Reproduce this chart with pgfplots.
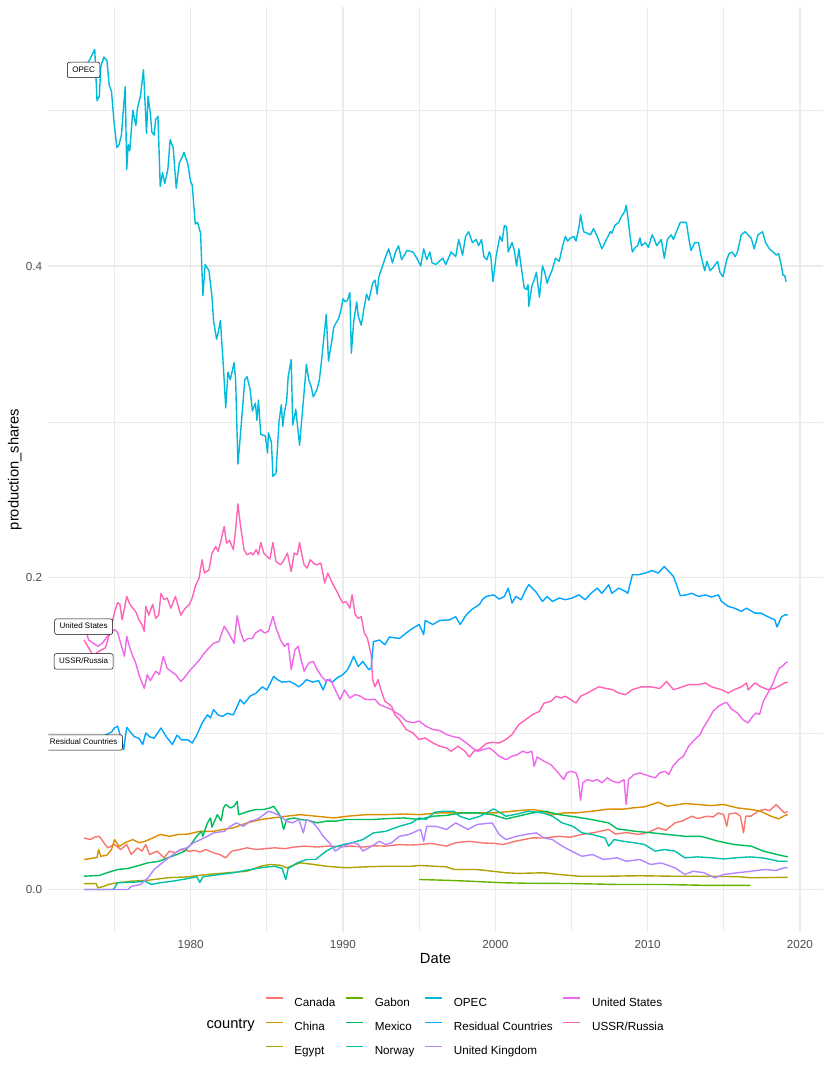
\documentclass[border=0pt]{standalone}
\usepackage{fontspec}
\setmainfont{Liberation Sans}
\usepackage{pgfplots}
\pgfplotsset{compat=1.18}
\definecolor{gridc}{HTML}{EBEBEB}
\definecolor{tickc}{HTML}{4D4D4D}
\definecolor{cCanada}{HTML}{F8766D}
\definecolor{cChina}{HTML}{DB8E00}
\definecolor{cEgypt}{HTML}{AEA200}
\definecolor{cGabon}{HTML}{64B200}
\definecolor{cMexico}{HTML}{00BD5C}
\definecolor{cNorway}{HTML}{00C1A7}
\definecolor{cOPEC}{HTML}{00BADE}
\definecolor{cResid}{HTML}{00A6FF}
\definecolor{cUK}{HTML}{B385FF}
\definecolor{cUS}{HTML}{EF67EB}
\definecolor{cUSSR}{HTML}{FF63B6}
\begin{document}
\begin{tikzpicture}
\path[use as bounding box] (-48.3pt,-143pt) rectangle (781.7pt,932pt);
\begin{axis}[
  at={(0pt,0pt)}, anchor=south west,
  scale only axis, width=774.4pt, height=924.7pt,
  xmin=1970.65, xmax=2021.5, ymin=-0.0273, ymax=0.566,
  axis line style={draw=none}, major tick length=0pt, minor tick length=0pt,
  tick style={draw=none},
  xtick={1980,1990,2000,2010,2020}, xticklabels={1980,1990,2000,2010,2020},
  minor xtick={1975,1985,1995,2005,2015},
  ytick={0,0.2,0.4}, yticklabels={0.0,0.2,0.4},
  minor ytick={0.1,0.3,0.5},
  grid=both,
  major grid style={line width=1.3pt, color=gridc},
  minor grid style={line width=0.7pt, color=gridc},
  xticklabel style={font=\fontsize{11.7}{14}\selectfont, color=tickc, anchor=north, inner sep=0pt, text height=8.4pt, text depth=0pt, yshift=-8pt},
  yticklabel style={font=\fontsize{11.7}{14}\selectfont, color=tickc, anchor=east, inner sep=0pt, text height=8.4pt, text depth=0pt, xshift=-6pt},
  xlabel={Date},
  xlabel style={font=\fontsize{14.7}{17}\selectfont, at={(axis description cs:0.5,0)}, anchor=north, inner sep=0pt, text height=10.5pt, text depth=0pt, yshift=-21pt},
  ylabel={production\_shares},
  ylabel style={font=\fontsize{14.7}{17}\selectfont, at={(axis description cs:-0.0382,0.5)}, anchor=south, inner sep=0pt, text height=10.7pt, text depth=0pt},
  legend columns=4,
  legend cell align=left,
  legend image code/.code={\draw[#1] (0pt,4.2pt) -- (17pt,4.2pt);},
  legend style={draw=none, fill=none, inner sep=0pt, outer sep=0pt,
    at={(axis description cs:0.2798,-0.0708)}, anchor=north west,
    font=\fontsize{11.7}{14}\selectfont, row sep=15.1pt,
    nodes={inner sep=0pt, text height=8.4pt, text depth=0pt},
    /tikz/every odd column/.append style={column sep=11pt},
    /tikz/every even column/.append style={column sep=10pt}},
  every axis plot/.append style={line width=1.4pt, line join=round},
]
\addlegendimage{cCanada, line width=1.4pt}\addlegendentry{Canada}
\addlegendimage{cGabon, line width=1.4pt}\addlegendentry{Gabon}
\addlegendimage{cOPEC, line width=1.4pt}\addlegendentry{OPEC}
\addlegendimage{cUS, line width=1.4pt}\addlegendentry{United States}
\addlegendimage{cChina, line width=1.4pt}\addlegendentry{China}
\addlegendimage{cMexico, line width=1.4pt}\addlegendentry{Mexico}
\addlegendimage{cResid, line width=1.4pt}\addlegendentry{Residual Countries}
\addlegendimage{cUSSR, line width=1.4pt}\addlegendentry{USSR/Russia}
\addlegendimage{cEgypt, line width=1.4pt}\addlegendentry{Egypt}
\addlegendimage{cNorway, line width=1.4pt}\addlegendentry{Norway}
\addlegendimage{cUK, line width=1.4pt}\addlegendentry{United Kingdom}

% Canada
\addplot[forget plot, color=cCanada] table {
x y
1973.0 0.0331
1973.4 0.0320
1973.7 0.0336
1974.0 0.0341
1974.3 0.030
1974.55 0.0267
1975.0 0.0288
1975.4 0.0256
1975.8 0.0288
1976.1 0.0224
1976.5 0.0267
1976.8 0.0246
1977.05 0.0288
1977.3 0.0224
1977.8 0.0246
1978.25 0.0203
1978.6 0.0246
1979.0 0.0235
1979.4 0.0256
1979.9 0.0245
1980.3 0.0250
1980.6 0.0240
1981.0 0.0256
1981.5 0.0235
1981.9 0.0224
1982.3 0.0203
1982.7 0.0246
1983.2 0.0256
1983.7 0.0267
1984.3 0.0256
1984.9 0.0262
1985.5 0.0267
1986.2 0.0262
1986.8 0.0272
1987.5 0.0278
1988.3 0.0272
1989.0 0.0278
1989.8 0.0275
1990.6 0.0278
1991.3 0.0272
1992.0 0.0280
1992.8 0.0278
1993.7 0.0288
1994.4 0.0285
1995.0 0.0288
1995.8 0.0295
1996.8 0.0278
1997.4 0.0300
1998.3 0.0309
1999.2 0.0298
2000.0 0.0295
2000.5 0.0288
2001.3 0.0309
2002.45 0.0331
2003.2 0.0330
2004.2 0.0341
2004.9 0.0335
2005.7 0.0353
2006.5 0.0365
2007.45 0.0385
2007.9 0.0355
2008.6 0.0365
2009.4 0.0353
2010.0 0.0365
2010.7 0.0395
2011.2 0.0380
2011.8 0.0427
2012.3 0.0440
2012.9 0.047
2013.3 0.0455
2013.9 0.047
2014.3 0.0465
2014.65 0.0491
2015.0 0.0480
2015.2 0.0405
2015.35 0.0485
2015.8 0.0491
2016.1 0.0470
2016.3 0.0363
2016.45 0.0470
2016.8 0.0470
2017.25 0.0502
2017.7 0.0515
2018.0 0.0505
2018.45 0.0545
2018.7 0.0520
2019.0 0.0491
2019.2 0.050
};
% China
\addplot[forget plot, color=cChina] table {
x y
1973.0 0.0192
1973.5 0.0200
1973.85 0.0205
1973.95 0.0256
1974.1 0.0213
1974.5 0.0220
1974.8 0.0256
1975.0 0.032
1975.3 0.0275
1975.7 0.030
1976.2 0.032
1976.6 0.030
1977.0 0.0309
1977.5 0.0330
1978.0 0.0353
1978.6 0.0341
1979.2 0.0353
1979.8 0.0355
1980.6 0.0373
1981.5 0.0373
1982.1 0.0385
1982.8 0.0395
1983.7 0.0427
1984.6 0.0449
1985.4 0.0459
1986.3 0.047
1987.2 0.048
1988.2 0.047
1989.4 0.0459
1990.3 0.047
1991.55 0.048
1992.8 0.048
1994.0 0.0484
1995.0 0.048
1996.3 0.0491
1997.4 0.0491
1998.8 0.0491
2000.0 0.0491
2001.1 0.0502
2002.45 0.0513
2003.0 0.0505
2003.75 0.048
2004.5 0.0491
2005.3 0.0491
2006.35 0.0502
2007.45 0.0516
2008.4 0.0515
2009.0 0.0523
2009.8 0.0530
2010.7 0.0559
2011.3 0.0534
2012.45 0.0551
2013.3 0.0545
2014.2 0.0538
2015.0 0.0545
2015.9 0.0523
2016.8 0.0513
2017.4 0.0502
2018.1 0.047
2018.6 0.0453
2019.0 0.0474
2019.2 0.048
};
% Egypt
\addplot[forget plot, color=cEgypt] table {
x y
1973.0 0.0037
1973.8 0.0037
1973.9 0.0010
1974.3 0.0020
1974.6 0.0032
1975.2 0.0043
1976.1 0.0053
1977.2 0.0059
1978.5 0.0075
1979.8 0.0081
1981.1 0.0096
1982.4 0.0107
1983.7 0.0117
1984.6 0.0149
1985.2 0.0160
1985.9 0.0155
1986.3 0.0139
1987.2 0.0171
1988.1 0.0160
1988.9 0.0149
1990.2 0.0139
1991.5 0.0145
1992.8 0.0149
1994.5 0.0149
1995.0 0.0154
1996.8 0.0145
1997.3 0.0128
1998.8 0.0128
1999.8 0.0117
2000.7 0.0107
2001.5 0.0103
2003.2 0.0107
2004.2 0.0096
2005.5 0.0085
2007.5 0.0085
2009.5 0.0088
2011.5 0.0085
2013.7 0.0085
2015.9 0.0082
2016.8 0.0075
2019.2 0.0078
};
% Gabon
\addplot[forget plot, color=cGabon] table {
x y
1995.0 0.0064
1997.0 0.0058
1998.3 0.0053
2000.5 0.0043
2002.0 0.0040
2005.0 0.0038
2008.0 0.0032
2011.0 0.0032
2014.0 0.0026
2016.75 0.0026
};
% Mexico
\addplot[forget plot, color=cMexico] table {
x y
1973.0 0.0085
1974.0 0.0090
1974.5 0.0107
1975.2 0.0128
1975.9 0.0135
1976.6 0.0154
1977.2 0.0171
1977.9 0.0180
1978.5 0.0203
1979.1 0.0224
1979.6 0.0246
1980.0 0.0288
1980.4 0.0341
1980.7 0.0373
1980.8 0.0341
1981.1 0.0427
1981.3 0.0459
1981.4 0.0400
1981.75 0.048
1982.0 0.0440
1982.15 0.0523
1982.3 0.0545
1982.6 0.0523
1982.85 0.0534
1983.05 0.0566
1983.15 0.048
1983.5 0.0491
1983.8 0.0502
1984.3 0.0513
1984.8 0.0513
1985.2 0.0523
1985.45 0.0534
1985.9 0.047
1986.1 0.0385
1986.3 0.0449
1986.8 0.0459
1987.2 0.0449
1987.8 0.0442
1988.3 0.0427
1988.9 0.0438
1989.5 0.0438
1990.2 0.0449
1991.0 0.0449
1992.0 0.0449
1993.0 0.0455
1994.0 0.0459
1995.0 0.0449
1995.9 0.047
1996.8 0.0475
1997.8 0.0491
1998.8 0.0491
1999.8 0.048
2000.7 0.0453
2001.5 0.0470
2002.45 0.0491
2003.3 0.0502
2004.2 0.048
2005.3 0.0465
2006.3 0.0449
2007.45 0.0427
2008.0 0.0389
2009.2 0.0373
2010.3 0.0363
2011.3 0.0353
2012.45 0.0341
2013.5 0.0341
2014.65 0.0309
2015.7 0.0288
2016.8 0.0278
2017.6 0.0246
2018.5 0.0224
2019.2 0.0209
};
% Norway
\addplot[forget plot, color=cNorway] table {
x y
1973.0 0.0
1974.9 0.0
1975.0 0.0010
1975.2 0.0043
1976.5 0.0048
1977.0 0.0053
1977.4 0.0032
1978.0 0.0043
1978.8 0.0053
1979.7 0.0068
1980.4 0.0081
1980.6 0.0045
1980.8 0.0081
1981.9 0.0096
1982.8 0.0107
1983.7 0.0124
1984.6 0.0139
1985.5 0.0149
1986.0 0.0135
1986.25 0.0064
1986.4 0.0135
1987.0 0.0171
1987.6 0.0192
1988.2 0.0192
1988.9 0.0246
1989.3 0.0267
1990.0 0.0288
1990.6 0.0300
1991.3 0.032
1992.0 0.0363
1992.8 0.0373
1993.7 0.0405
1994.5 0.0427
1995.0 0.0459
1995.45 0.0449
1996.0 0.0495
1996.6 0.0502
1997.3 0.0502
1997.65 0.047
1998.3 0.0449
1999.0 0.0470
1999.9 0.0517
2000.7 0.0470
2001.5 0.0485
2002.2 0.0502
2003.1 0.0491
2003.75 0.047
2004.4 0.0427
2005.1 0.0405
2005.7 0.0363
2006.35 0.0353
2007.2 0.0331
2007.45 0.0278
2007.8 0.0320
2008.4 0.0309
2009.1 0.0300
2009.8 0.0288
2010.5 0.0246
2011.1 0.0256
2011.8 0.0246
2012.45 0.0203
2013.3 0.0209
2014.2 0.0203
2015.0 0.0196
2015.8 0.0203
2016.7 0.0209
2017.5 0.0203
2018.1 0.0192
2018.6 0.0181
2019.2 0.0181
};
% OPEC
\addplot[forget plot, color=cOPEC] table {
x y
1973.0 0.528
1973.2 0.530
1973.35 0.532
1973.6 0.537
1973.7 0.539
1973.85 0.506
1974.0 0.509
1974.1 0.528
1974.3 0.534
1974.5 0.532
1974.65 0.516
1974.8 0.512
1974.95 0.494
1975.15 0.476
1975.3 0.478
1975.45 0.484
1975.7 0.515
1975.8 0.462
1975.9 0.478
1976.0 0.474
1976.2 0.500
1976.4 0.490
1976.5 0.501
1976.7 0.509
1976.9 0.526
1977.1 0.485
1977.2 0.509
1977.35 0.498
1977.45 0.486
1977.6 0.484
1977.7 0.494
1977.85 0.496
1978.0 0.451
1978.15 0.460
1978.3 0.453
1978.5 0.462
1978.65 0.481
1978.85 0.476
1979.05 0.450
1979.25 0.466
1979.45 0.470
1979.55 0.473
1979.8 0.466
1980.0 0.454
1980.1 0.452
1980.3 0.427
1980.45 0.428
1980.65 0.421
1980.8 0.381
1980.95 0.401
1981.2 0.397
1981.4 0.380
1981.5 0.365
1981.7 0.353
1981.8 0.357
1981.95 0.365
1982.15 0.335
1982.3 0.309
1982.45 0.332
1982.6 0.327
1982.85 0.338
1982.95 0.327
1983.1 0.273
1983.2 0.284
1983.4 0.308
1983.55 0.327
1983.7 0.329
1983.9 0.321
1984.05 0.307
1984.25 0.312
1984.35 0.301
1984.45 0.314
1984.6 0.292
1984.9 0.291
1985.05 0.280
1985.1 0.293
1985.3 0.287
1985.4 0.265
1985.6 0.267
1985.8 0.300
1985.95 0.311
1986.05 0.297
1986.15 0.306
1986.3 0.313
1986.4 0.329
1986.6 0.340
1986.7 0.298
1986.9 0.308
1987.15 0.285
1987.35 0.308
1987.6 0.337
1987.75 0.327
1987.9 0.323
1988.05 0.316
1988.3 0.321
1988.45 0.327
1988.6 0.340
1988.9 0.369
1989.05 0.339
1989.25 0.351
1989.4 0.361
1989.7 0.366
1989.85 0.371
1990.0 0.379
1990.15 0.377
1990.3 0.378
1990.45 0.383
1990.55 0.344
1990.7 0.364
1990.9 0.377
1991.0 0.368
1991.2 0.362
1991.4 0.374
1991.55 0.382
1991.7 0.378
1991.95 0.389
1992.1 0.391
1992.25 0.382
1992.35 0.393
1992.6 0.400
1992.8 0.406
1993.0 0.411
1993.25 0.402
1993.45 0.409
1993.65 0.413
1993.85 0.404
1994.2 0.410
1994.6 0.409
1994.85 0.405
1995.1 0.400
1995.3 0.411
1995.5 0.404
1995.7 0.409
1995.85 0.402
1996.1 0.401
1996.55 0.405
1996.75 0.401
1997.1 0.409
1997.4 0.406
1997.6 0.417
1997.85 0.407
1998.05 0.419
1998.25 0.422
1998.5 0.415
1998.75 0.417
1998.9 0.413
1999.1 0.417
1999.25 0.406
1999.45 0.404
1999.6 0.409
1999.7 0.407
1999.85 0.390
2000.05 0.406
2000.3 0.419
2000.45 0.416
2000.6 0.426
2000.75 0.425
2000.85 0.409
2001.1 0.415
2001.25 0.410
2001.4 0.400
2001.55 0.411
2001.65 0.403
2001.9 0.386
2002.05 0.385
2002.15 0.388
2002.2 0.374
2002.4 0.387
2002.55 0.391
2002.7 0.396
2002.9 0.380
2003.1 0.400
2003.25 0.396
2003.4 0.389
2003.55 0.393
2003.75 0.398
2003.95 0.405
2004.2 0.403
2004.4 0.412
2004.6 0.419
2004.75 0.416
2004.95 0.418
2005.15 0.419
2005.3 0.416
2005.5 0.425
2005.6 0.433
2005.8 0.422
2006.05 0.421
2006.25 0.420
2006.45 0.424
2006.7 0.419
2006.85 0.415
2007.0 0.411
2007.2 0.415
2007.55 0.422
2007.65 0.421
2007.85 0.426
2008.1 0.428
2008.3 0.432
2008.5 0.435
2008.6 0.439
2008.75 0.428
2008.85 0.419
2009.0 0.409
2009.2 0.412
2009.35 0.413
2009.5 0.418
2009.6 0.413
2009.85 0.415
2010.05 0.412
2010.3 0.420
2010.45 0.417
2010.6 0.413
2010.9 0.417
2011.1 0.405
2011.3 0.417
2011.55 0.420
2011.7 0.417
2011.85 0.421
2012.15 0.428
2012.35 0.428
2012.55 0.428
2012.7 0.418
2012.85 0.410
2013.1 0.415
2013.35 0.415
2013.5 0.407
2013.75 0.397
2013.9 0.403
2014.1 0.397
2014.3 0.399
2014.6 0.403
2014.75 0.396
2014.95 0.393
2015.2 0.404
2015.35 0.408
2015.55 0.409
2015.75 0.406
2015.9 0.409
2016.15 0.420
2016.4 0.422
2016.6 0.420
2016.8 0.418
2017.0 0.411
2017.25 0.420
2017.55 0.422
2017.75 0.415
2018.0 0.411
2018.25 0.409
2018.45 0.407
2018.6 0.408
2018.75 0.402
2018.9 0.394
2019.0 0.394
2019.1 0.390
};
% Residual Countries
\addplot[forget plot, color=cResid] table {
x y
1973.0 0.097
1973.3 0.095
1973.6 0.098
1974.0 0.096
1974.4 0.099
1974.8 0.101
1975.0 0.1037
1975.2 0.1047
1975.4 0.098
1975.6 0.0897
1975.8 0.104
1976.0 0.1015
1976.3 0.098
1976.6 0.097
1976.85 0.093
1977.05 0.1004
1977.3 0.098
1977.6 0.097
1978.05 0.1036
1978.4 0.098
1978.8 0.093
1979.1 0.099
1979.4 0.096
1979.8 0.096
1980.1 0.094
1980.4 0.099
1980.75 0.1068
1981.1 0.112
1981.3 0.110
1981.5 0.1154
1981.8 0.112
1982.1 0.111
1982.4 0.113
1982.8 0.112
1983.25 0.1218
1983.5 0.119
1983.9 0.124
1984.3 0.126
1984.7 0.130
1985.0 0.128
1985.45 0.1367
1985.7 0.1346
1986.0 0.133
1986.5 0.1335
1986.8 0.132
1987.1 0.130
1987.35 0.132
1987.6 0.1346
1988.0 0.133
1988.4 0.134
1988.7 0.128
1988.95 0.1346
1989.3 0.133
1989.6 0.1357
1989.8 0.1367
1990.0 0.138
1990.3 0.141
1990.5 0.145
1990.7 0.1496
1991.0 0.143
1991.3 0.1463
1991.7 0.141
1991.85 0.142
1992.0 0.159
1992.4 0.160
1992.75 0.157
1993.05 0.162
1993.7 0.161
1994.15 0.1645
1994.6 0.1677
1995.0 0.170
1995.3 0.1635
1995.4 0.1726
1995.9 0.170
1996.35 0.1726
1997.0 0.173
1997.4 0.175
1997.7 0.170
1998.1 0.1763
1998.5 0.180
1998.95 0.1827
1999.15 0.1859
1999.4 0.188
1999.9 0.189
2000.25 0.1863
2000.6 0.188
2000.85 0.1933
2001.1 0.1838
2001.35 0.188
2001.7 0.1859
2002.0 0.1923
2002.2 0.1955
2002.65 0.1912
2003.1 0.1848
2003.4 0.188
2003.75 0.1848
2004.2 0.187
2004.6 0.1859
2005.05 0.187
2005.5 0.189
2005.9 0.1859
2006.35 0.1906
2006.7 0.1933
2007.0 0.190
2007.45 0.1955
2007.65 0.190
2008.1 0.1933
2008.55 0.1912
2008.7 0.190
2009.0 0.2019
2009.4 0.2019
2009.85 0.203
2010.3 0.2046
2010.7 0.203
2011.1 0.2072
2011.4 0.204
2011.7 0.2008
2011.9 0.1955
2012.15 0.1885
2012.55 0.189
2012.9 0.190
2013.35 0.188
2013.8 0.189
2014.2 0.1876
2014.65 0.189
2014.85 0.1848
2015.3 0.1816
2015.7 0.1805
2016.15 0.1784
2016.5 0.1805
2017.05 0.1773
2017.45 0.1773
2017.9 0.175
2018.35 0.173
2018.5 0.1684
2018.8 0.175
2019.05 0.1763
2019.2 0.176
};
% United Kingdom
\addplot[forget plot, color=cUK] table {
x y
1973.0 0.0
1975.9 0.0
1976.1 0.0020
1976.7 0.0032
1977.2 0.0075
1977.6 0.0128
1978.0 0.016
1978.4 0.0192
1978.85 0.0224
1979.3 0.0256
1979.75 0.0267
1980.2 0.030
1980.65 0.032
1981.1 0.0341
1981.5 0.0363
1982.2 0.0373
1982.6 0.0405
1983.0 0.0427
1983.45 0.0405
1983.9 0.0438
1984.35 0.0449
1984.8 0.048
1985.1 0.0502
1985.5 0.0490
1985.9 0.047
1986.3 0.0438
1986.7 0.0427
1987.1 0.0449
1987.4 0.0363
1987.6 0.0449
1988.05 0.0427
1988.4 0.0385
1988.7 0.0341
1989.1 0.030
1989.5 0.0246
1989.8 0.0267
1990.3 0.0288
1990.7 0.030
1991.0 0.0290
1991.3 0.0246
1991.7 0.0267
1992.4 0.0309
1992.8 0.0288
1993.2 0.030
1993.7 0.0341
1994.3 0.0352
1994.8 0.0373
1995.1 0.0385
1995.3 0.0309
1995.5 0.0405
1996.1 0.0405
1996.8 0.0385
1997.4 0.0427
1998.2 0.0385
1998.8 0.0417
1999.8 0.0427
2000.25 0.0353
2000.7 0.032
2001.4 0.0341
2002.0 0.0353
2002.7 0.0363
2003.2 0.0331
2003.75 0.032
2004.4 0.0278
2005.0 0.0246
2005.7 0.0213
2006.4 0.0224
2007.1 0.0192
2008.0 0.0203
2008.6 0.0181
2009.5 0.0192
2010.2 0.016
2010.9 0.0170
2011.8 0.0139
2012.45 0.0096
2013.0 0.0117
2013.7 0.0107
2014.4 0.0075
2015.0 0.0096
2015.9 0.0107
2016.8 0.0117
2017.7 0.0128
2018.4 0.0122
2019.0 0.0139
2019.2 0.014
};
% United States
\addplot[forget plot, color=cUS] table {
x y
1973.0 0.170
1973.3 0.160
1973.6 0.158
1973.9 0.156
1974.2 0.158
1974.5 0.162
1974.8 0.165
1975.0 0.1667
1975.2 0.165
1975.4 0.158
1975.65 0.1496
1975.8 0.1624
1976.0 0.155
1976.2 0.1496
1976.4 0.145
1976.6 0.1378
1976.95 0.129
1977.15 0.1378
1977.35 0.134
1977.7 0.140
1977.95 0.138
1978.2 0.1496
1978.45 0.142
1978.7 0.140
1979.0 0.138
1979.35 0.1335
1979.6 0.136
1979.9 0.140
1980.2 0.1432
1980.55 0.147
1980.9 0.1517
1981.2 0.155
1981.5 0.158
1981.85 0.159
1982.2 0.1688
1982.4 0.166
1982.6 0.1624
1982.85 0.158
1983.05 0.1756
1983.25 0.166
1983.5 0.159
1983.75 0.161
1984.05 0.161
1984.25 0.1645
1984.6 0.1667
1984.85 0.1645
1985.1 0.1656
1985.4 0.1752
1985.6 0.168
1985.9 0.160
1986.15 0.156
1986.4 0.158
1986.6 0.141
1986.85 0.1538
1987.05 0.156
1987.25 0.1474
1987.45 0.140
1987.75 0.1453
1988.05 0.1463
1988.3 0.141
1988.6 0.1367
1988.9 0.1335
1989.15 0.135
1989.5 0.128
1989.8 0.1218
1990.1 0.128
1990.45 0.1228
1990.8 0.1250
1991.15 0.124
1991.45 0.122
1991.75 0.1218
1992.1 0.122
1992.4 0.1186
1992.8 0.117
1993.2 0.1154
1993.5 0.1132
1993.75 0.112
1994.15 0.108
1994.6 0.107
1995.0 0.108
1995.45 0.1047
1995.9 0.1026
1996.35 0.102
1996.8 0.0994
1997.25 0.098
1997.65 0.0972
1998.1 0.094
1998.5 0.0908
1998.85 0.0887
1999.2 0.0897
1999.6 0.0908
1999.9 0.0887
2000.25 0.0855
2000.7 0.0833
2001.1 0.0855
2001.45 0.0865
2001.8 0.0887
2002.1 0.0876
2002.4 0.0887
2002.55 0.079
2002.75 0.085
2003.2 0.0823
2003.65 0.0801
2004.05 0.0758
2004.5 0.0705
2004.7 0.0748
2004.95 0.0758
2005.3 0.0748
2005.45 0.0705
2005.6 0.0572
2005.75 0.0684
2006.05 0.0705
2006.4 0.0695
2006.7 0.0705
2007.0 0.0684
2007.35 0.0716
2007.7 0.0695
2008.1 0.0684
2008.45 0.0705
2008.6 0.0545
2008.75 0.0705
2009.1 0.0737
2009.5 0.0748
2009.8 0.0737
2010.15 0.0726
2010.5 0.0716
2010.8 0.0748
2011.15 0.0758
2011.4 0.0737
2011.65 0.079
2012.05 0.0833
2012.35 0.0855
2012.7 0.0919
2013.1 0.0962
2013.45 0.0994
2013.65 0.1036
2014.0 0.109
2014.3 0.1143
2014.65 0.1175
2014.95 0.1192
2015.2 0.120
2015.5 0.1158
2015.9 0.1132
2016.25 0.109
2016.6 0.1068
2016.9 0.111
2017.1 0.1132
2017.35 0.1122
2017.6 0.1207
2017.9 0.126
2018.2 0.1314
2018.45 0.1378
2018.65 0.142
2018.9 0.1436
2019.05 0.1453
2019.2 0.146
};
% USSR/Russia
\addplot[forget plot, color=cUSSR] table {
x y
1973.0 0.160
1973.3 0.155
1973.6 0.150
1974.0 0.153
1974.4 0.155
1974.7 0.165
1975.0 0.178
1975.2 0.184
1975.35 0.183
1975.5 0.173
1975.8 0.188
1976.0 0.183
1976.2 0.1805
1976.4 0.178
1976.6 0.173
1976.8 0.170
1976.95 0.1656
1977.05 0.1816
1977.25 0.176
1977.5 0.183
1977.7 0.174
1977.9 0.176
1978.05 0.190
1978.25 0.186
1978.45 0.187
1978.7 0.1805
1979.0 0.188
1979.35 0.176
1979.6 0.180
1979.9 0.1827
1980.1 0.187
1980.3 0.1944
1980.55 0.1998
1980.75 0.2115
1980.9 0.203
1981.2 0.205
1981.4 0.2158
1981.65 0.220
1981.8 0.217
1981.95 0.2222
1982.2 0.2329
1982.35 0.2222
1982.55 0.224
1982.8 0.218
1982.95 0.2308
1983.1 0.2474
1983.25 0.235
1983.5 0.218
1983.7 0.2147
1983.95 0.216
1984.1 0.2147
1984.3 0.218
1984.45 0.2147
1984.6 0.2226
1984.8 0.2158
1985.0 0.2137
1985.2 0.212
1985.4 0.2226
1985.6 0.2104
1985.9 0.2083
1986.1 0.211
1986.35 0.2158
1986.6 0.204
1986.8 0.2158
1987.0 0.2147
1987.15 0.2226
1987.3 0.2147
1987.45 0.2083
1987.65 0.2062
1987.85 0.2115
1988.1 0.209
1988.3 0.2083
1988.55 0.2094
1988.8 0.1966
1989.0 0.203
1989.3 0.1966
1989.6 0.1912
1989.8 0.187
1990.0 0.1838
1990.2 0.1848
1990.45 0.1805
1990.6 0.189
1990.8 0.1763
1991.0 0.174
1991.2 0.175
1991.4 0.1645
1991.6 0.1613
1991.85 0.1506
1991.95 0.1346
1992.1 0.130
1992.3 0.1346
1992.5 0.128
1992.75 0.1207
1993.0 0.119
1993.2 0.1175
1993.4 0.112
1993.7 0.109
1994.15 0.1026
1994.6 0.1004
1995.0 0.0962
1995.4 0.0972
1995.9 0.094
1996.35 0.0919
1996.8 0.0908
1997.1 0.0887
1997.55 0.0919
1998.0 0.0887
1998.3 0.085
1998.6 0.0887
1998.95 0.0897
1999.4 0.0936
1999.8 0.0944
2000.25 0.094
2000.7 0.0962
2001.1 0.0994
2001.55 0.1058
2002.0 0.109
2002.45 0.1122
2002.9 0.1143
2003.2 0.1196
2003.65 0.1207
2004.0 0.124
2004.3 0.1228
2004.6 0.124
2004.95 0.1218
2005.3 0.1196
2005.6 0.124
2006.05 0.126
2006.45 0.1282
2006.8 0.130
2007.25 0.129
2007.7 0.1282
2008.1 0.126
2008.55 0.125
2009.0 0.1282
2009.6 0.130
2010.2 0.130
2010.8 0.129
2011.25 0.1335
2011.7 0.1282
2012.0 0.129
2012.7 0.1314
2013.35 0.1314
2013.8 0.1325
2014.2 0.130
2014.85 0.1282
2015.3 0.126
2015.7 0.1282
2016.15 0.130
2016.5 0.1325
2016.6 0.128
2017.05 0.1325
2017.45 0.130
2017.9 0.1282
2018.35 0.129
2018.8 0.1314
2019.05 0.1328
2019.2 0.133
};
\tikzset{lab/.style={draw=black, fill=white, rounded corners=2pt, line width=0.5pt, inner xsep=5pt, inner ysep=4pt, font=\fontsize{8}{9.6}\selectfont, text height=5.8pt, text depth=1.6pt}}
\node[lab] at (axis cs:1972.97,0.5258) {OPEC};
\node[lab] at (axis cs:1972.97,0.1686) {United States};
\node[lab] at (axis cs:1972.97,0.1463) {USSR/Russia};
\node[lab] at (axis cs:1972.97,0.0943) {Residual Countries};
\end{axis}
\node[anchor=base east, inner sep=0pt, font=\fontsize{14.7}{17}\selectfont] at (206.7pt,-96.8pt) {country};
\end{tikzpicture}
\end{document}
